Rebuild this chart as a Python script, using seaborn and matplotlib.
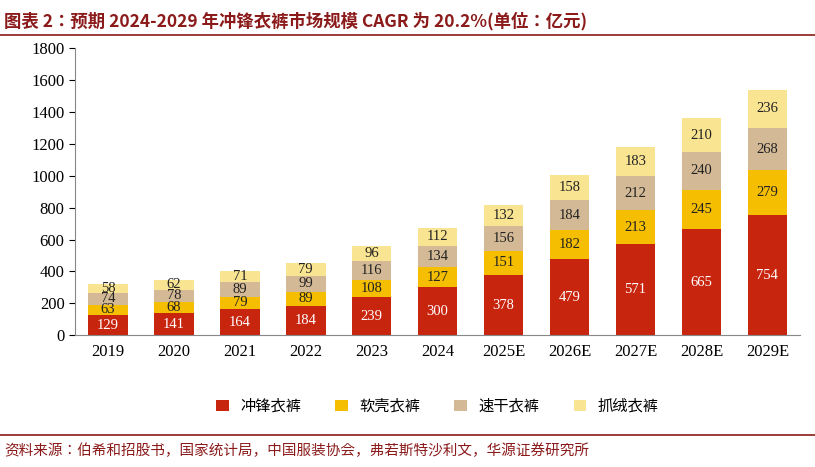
import numpy as np
import pandas as pd
import matplotlib
matplotlib.use("Agg")
import matplotlib.pyplot as plt
import seaborn as sns

plt.rcParams["font.family"] = ["Noto Sans CJK JP", "Noto Sans CJK SC", "DejaVu Sans"]

years = ["2019", "2020", "2021", "2022", "2023", "2024", "2025E", "2026E", "2027E", "2028E", "2029E"]
chongfeng = [129, 141, 164, 184, 239, 300, 378, 479, 571, 665, 754]
ruanke = [63, 68, 79, 89, 108, 127, 151, 182, 213, 245, 279]
suganyi = [74, 78, 89, 99, 116, 134, 156, 184, 212, 240, 268]
zhuarong = [58, 62, 71, 79, 96, 112, 132, 158, 183, 210, 236]

series = [("冲锋衣裤", chongfeng, "#C8250F", "white"),
          ("软壳衣裤", ruanke, "#F5BE00", "#222222"),
          ("速干衣裤", suganyi, "#D3B995", "#222222"),
          ("抓绒衣裤", zhuarong, "#F8E491", "#222222")]

fig = plt.figure(figsize=(8.15, 4.67), dpi=100)
ax = fig.add_axes([0.092, 0.282, 0.89, 0.615])

bottom = np.zeros(len(years))
for name, vals, color, tcol in series:
    df = pd.DataFrame({"year": years, "v": vals})
    sns.barplot(data=df, x="year", y="v", color=color, bottom=bottom, width=0.6,
                label=name, ax=ax, saturation=1)
    cont = ax.containers[-1]
    ax.bar_label(cont, labels=[str(v) for v in vals], label_type="center",
                 color=tcol, fontsize=10.5, family="Liberation Serif")
    bottom = bottom + np.array(vals)

ax.set_ylim(0, 1800)
ax.set_yticks(range(0, 1801, 200))
ax.set_xlim(-0.5, len(years) - 0.5)
ax.set_xlabel("")
ax.set_ylabel("")
for lab in ax.get_xticklabels() + ax.get_yticklabels():
    lab.set_fontfamily("Liberation Serif")
    lab.set_fontsize(12)
ax.tick_params(axis="x", length=0, pad=6)
ax.tick_params(axis="y", direction="out", length=4)
for s in ["top", "right"]:
    ax.spines[s].set_visible(False)
ax.spines["left"].set_color("#888888")
ax.spines["bottom"].set_color("#888888")

ax.legend(loc="upper center", bbox_to_anchor=(0.5, -0.17), ncol=4, frameon=False,
          fontsize=11, handlelength=0.8, handleheight=0.8, columnspacing=2.2)

fig.text(0.005, 0.975, "图表 2：预期 2024-2029 年冲锋衣裤市场规模 CAGR 为 20.2%(单位：亿元)",
         color="#8B1A1A", fontsize=12.5, fontweight="bold", va="top")
fig.add_artist(plt.Line2D([0.0, 1.0], [0.925, 0.925], color="#8B1A1A", lw=1.2))
fig.add_artist(plt.Line2D([0.0, 1.0], [0.068, 0.068], color="#8B1A1A", lw=1.2))
fig.text(0.005, 0.035, "资料来源：伯希和招股书，国家统计局，中国服装协会，弗若斯特沙利文，华源证券研究所",
         color="#8B1A1A", fontsize=10.5, va="center")

fig.savefig("out.png", dpi=100)
